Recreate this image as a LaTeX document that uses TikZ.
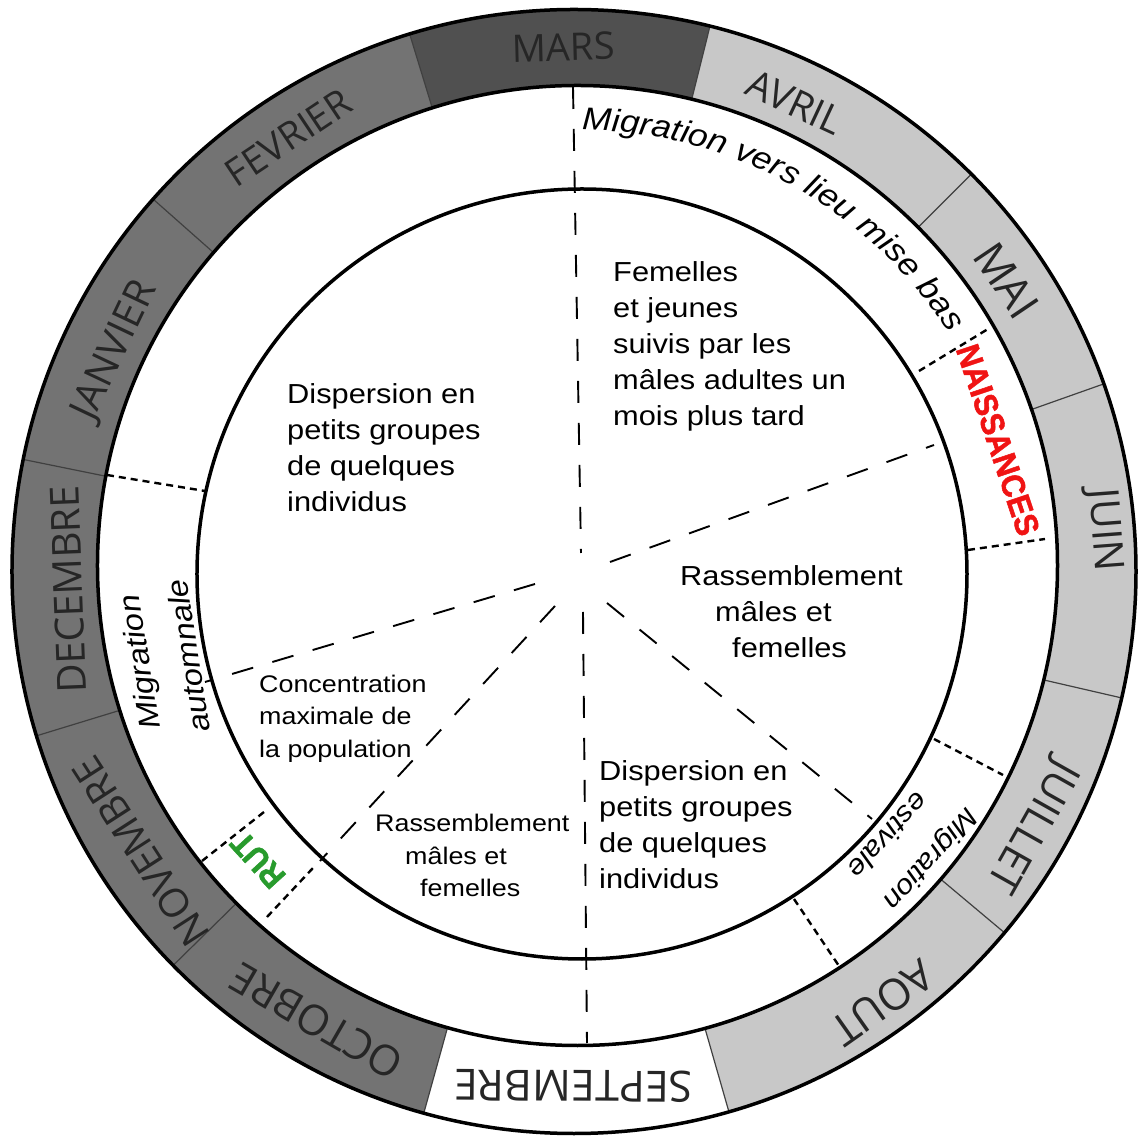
\documentclass[tikz,border=0pt]{standalone}
\usepackage{fontspec}
\setmainfont{Liberation Sans}
\newfontfamily\arialw[FakeStretch=1.12]{Liberation Sans}
\newfontfamily\heavyf[FakeBold=1.5,FakeStretch=0.92]{Liberation Sans}
\newfontfamily\monthf{Open Sans}
\usetikzlibrary{decorations.text}
\definecolor{mdark}{RGB}{80,80,80}
\definecolor{mmid}{RGB}{115,115,115}
\definecolor{mlight}{RGB}{200,200,200}
\definecolor{naisred}{RGB}{240,20,20}
\definecolor{rutgreen}{RGB}{40,155,45}
\begin{document}
\begin{tikzpicture}[x=1pt,y=1pt,
  monthlbl/.style={inner sep=0pt, text=black!85},
  bigtxt/.style={font=\arialw\fontsize{27.5}{36}\selectfont, inner sep=0pt, anchor=north west, align=left},
  smalltxt/.style={font=\arialw\fontsize{24}{32.5}\selectfont, inner sep=0pt, anchor=north west, align=left},
  miglbl/.style={font=\arialw\itshape\fontsize{29.5}{33}\selectfont, inner sep=0pt},
  eventlbl/.style={inner sep=0pt, font=\heavyf\bfseries\fontsize{33}{33}\selectfont},
  ringline/.style={line width=3.5pt},
  sepline/.style={line width=1.2pt, black!75},
  longdash/.style={line width=1.9pt, dash pattern=on 22pt off 20pt},
  shortdash/.style={line width=2.4pt, dash pattern=on 7pt off 5pt},
]
\useasboundingbox (-577,-569) rectangle (563,570);
% month sectors
\foreach \a/\b/\c in {76/107/mdark, 107/138.5/mmid, 138.5/168.5/mmid, 168.5/197/mmid, 197/224.5/mmid, 224.5/254.5/mmid, 254.5/286/white, 286/320/mlight, 320/347/mlight, 347/379.5/mlight, 19.5/45/mlight, 45/76/mlight}
  \fill[\c] (-3,-1.5) -- ++(\a:562) arc[start angle=\a, end angle=\b, radius=562] -- cycle;
\foreach \a in {76,107,138.5,168.5,197,224.5,254.5,286,320,347,19.5,45}
  \draw[sepline] (-3,-1.5) -- ++(\a:562);
\fill[white] (0.5,4.5) circle[radius=480];
% long dashed radial lines
\draw[longdash] (-4,483) -- (4,17);
\draw[longdash] (6,-42) -- (10,-473);
\draw[longdash] (33,8) -- (357,125);
\draw[longdash] (-42,-14) -- (-372,-112);
\draw[longdash] (-22,-36) -- (-257,-291);
\draw[longdash] (30,-33) -- (295,-249);
% short dashed separators in middle ring
\draw[shortdash] (342,199) -- (411,241);
\draw[shortdash] (391,20) -- (468,31);
\draw[shortdash] (-470,95) -- (-372,79);
\draw[shortdash] (-375,-291) -- (-313,-242);
\draw[shortdash] (-310,-347) -- (-264,-298);
\draw[shortdash] (357,-169) -- (426,-205);
\draw[shortdash] (217,-329) -- (262,-396);
% circles
\draw[ringline] (-3,-1.5) circle[radius=562];
\draw[ringline] (0.5,4.5) circle[radius=480];
\draw[ringline] (5,-4) circle[radius=385];
% month labels
\foreach \ang/\r/\txt/\sz/\nm in {91.5/523/MARS/38/mars, 65/516/AVRIL/39/avril, 34/518/MAI/44/mai, 4.3/528/JUIN/41/juin, -29.4/521/JUILLET/42/juillet, -54.8/530/AOUT/43/aout, -90.4/516/SEPTEMBRE/43/septembre, 240/521/OCTOBRE/42/octobre, 212.8/519/NOVEMBRE/40/novembre, 182.2/509/DECEMBRE/40/decembre, 154.6/511/JANVIER/40/janvier, 123.7/520/FEVRIER/38/fevrier}
  \node[monthlbl, font=\monthf\fontsize{\sz}{\sz}\selectfont, rotate=\ang-90] (\nm) at (\ang:\r) {\txt};
% inner texts
\node[bigtxt] (femelles) at (36,309) {Femelles\\et jeunes\\suivis par les\\mâles adultes un\\mois plus tard};
\node[bigtxt] (disp1) at (-290,187) {Dispersion en\\petits groupes\\de quelques\\individus};
\node[bigtxt] (rass1) at (103,5) {Rassemblement\\\hspace*{35pt}mâles et\\\hspace*{52pt}femelles};
\node[bigtxt] (disp2) at (22,-190) {Dispersion en\\petits groupes\\de quelques\\individus};
\node[smalltxt] (conc) at (-318,-104.5) {Concentration\\maximale de\\la population};
\node[smalltxt] (rass2) at (-202,-244) {Rassemblement\\\hspace*{30pt}mâles et\\\hspace*{45pt}femelles};
% migration labels
\node[miglbl, rotate=99] (migA1) at (-435,-92) {Migration};
\node[miglbl, rotate=99] (migA2) at (-389,-86) {automnale};
\node[miglbl, font=\arialw\itshape\fontsize{27.5}{48}\selectfont, rotate=228, align=right] (migE) at (337,-274) {Migration\\estivale};
\path[decorate, decoration={text along path, text align=left, text={|\arialw\itshape\fontsize{31.5}{31.5}\selectfont|Migration vers lieu mise bas}}] ([shift={(89.5:440)}]1,0) arc[start angle=89.5, end angle=20, radius=440];
% events
\node[eventlbl, text=naisred, rotate=-71.5] (naiss) at (421,130) {NAISSANCES};
\node[eventlbl, text=rutgreen, rotate=132.3] (rut) at (-319,-290) {RUT};
\end{tikzpicture}
\end{document}
